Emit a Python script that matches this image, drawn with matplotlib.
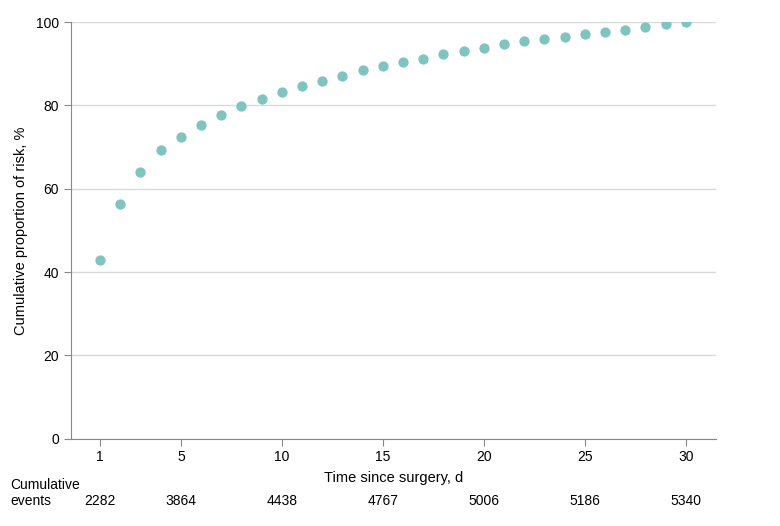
import numpy as np
import matplotlib.pyplot as plt

plt.rcParams['font.family'] = ['Liberation Sans', 'DejaVu Sans']

days = list(range(1, 31))
cum_risk = [42.9, 56.4, 64.0, 69.2, 72.5, 75.4, 77.8, 79.8, 81.6, 83.2,
            84.6, 85.8, 87.0, 88.4, 89.4, 90.4, 91.2, 92.4, 93.1, 93.8,
            94.7, 95.4, 96.0, 96.4, 97.2, 97.6, 98.2, 98.9, 99.5, 100.0]

tick_days = [1, 5, 10, 15, 20, 25, 30]
cum_events = [2282, 3864, 4438, 4767, 5006, 5186, 5340]

fig = plt.figure(figsize=(7.8, 5.26), dpi=100)
ax = fig.add_axes([0.091, 0.166, 0.827, 0.792])

ax.scatter(days, cum_risk, s=55, color="#80c4c1", zorder=3, linewidths=0)

ax.set_xlim(-0.44, 31.5)
ax.set_ylim(0, 100)
ax.set_xticks(tick_days)
ax.set_yticks([0, 20, 40, 60, 80, 100])
ax.yaxis.grid(True, color="#d9d9d9", linewidth=1)
ax.set_axisbelow(True)

for side in ["top", "right"]:
    ax.spines[side].set_visible(False)
ax.spines["left"].set_color("#888888")
ax.spines["bottom"].set_color("#888888")
ax.tick_params(axis="both", colors="#888888", labelcolor="black", labelsize=10, length=5)

ax.set_xlabel("Time since surgery, d", fontsize=10.5, labelpad=5)
ax.set_ylabel("Cumulative proportion of risk, %", fontsize=10.5, labelpad=6)

# Cumulative events row under the x axis
for d, n in zip(tick_days, cum_events):
    ax.annotate(str(n), xy=(d, 0), xycoords=("data", "axes fraction"),
                xytext=(0, -48), textcoords="offset points",
                ha="center", va="baseline", fontsize=10)
fig.text(0.013, 1 - 489 / 526, "Cumulative", ha="left", va="baseline", fontsize=10)
fig.text(0.013, 1 - 505 / 526, "events", ha="left", va="baseline", fontsize=10)

fig.savefig("out.png", dpi=100)
